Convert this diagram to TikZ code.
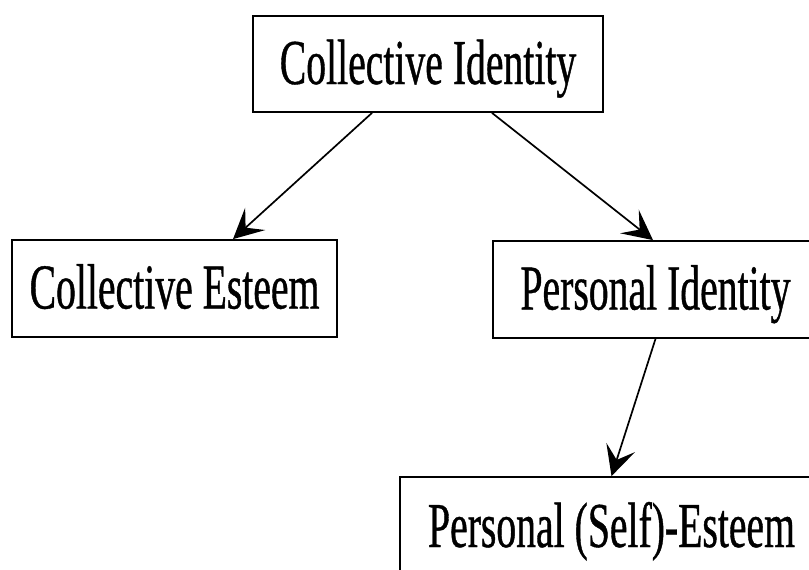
\documentclass[tikz,border=0pt]{standalone}
\usepackage{fontspec}
\newfontfamily\condserif[FakeStretch=0.62,FakeBold=0.6]{Liberation Serif}
\usetikzlibrary{arrows.meta}
\begin{document}
\begin{tikzpicture}[x=1pt,y=-1pt,
  box/.style={draw=black, line width=1.8pt, inner sep=0pt, align=center,
    font=\condserif\fontsize{64}{70}\selectfont, text height=44pt, text depth=4pt},
  link/.style={draw=black, line width=1.7pt,
    -{Stealth[length=30pt,width=30pt,inset=13pt]}}]
\useasboundingbox (0,0) rectangle (809,570);
\clip (0,0) rectangle (809,570);
\fill[white] (0,0) rectangle (809,570);
\node[box, minimum width=350pt, minimum height=96pt] (ci) at (428,64) {Collective Identity};
\node[box, minimum width=325pt, minimum height=97pt] (ce) at (174.5,288.5) {Collective Esteem};
\node[box, minimum width=325pt, minimum height=97pt] (pi) at (655.5,289.5) {Personal Identity};
\node[box, minimum width=423pt, minimum height=100pt] (pse) at (611.5,527) {Personal (Self)-Esteem};
\draw[link] ([xshift=-56pt]ci.south) -- ([xshift=58.5pt]ce.north);
\draw[link] ([xshift=64pt]ci.south) -- ([xshift=-2.5pt]pi.north);
\draw[link] (pi.south) -- (pse.north);
\end{tikzpicture}
\end{document}
